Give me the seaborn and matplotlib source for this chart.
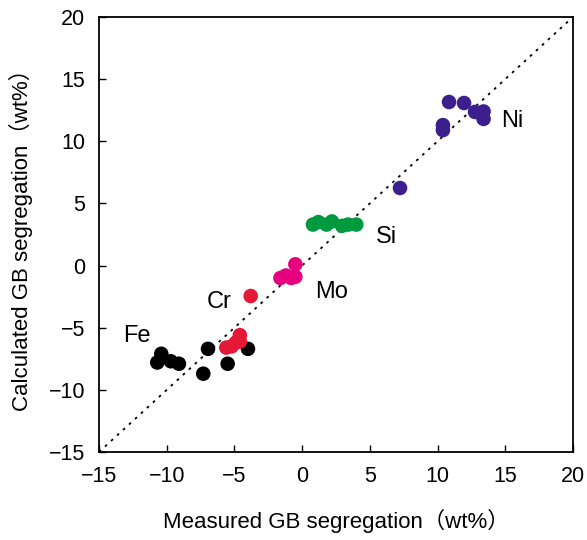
import pandas as pd
import matplotlib
matplotlib.use("Agg")
import matplotlib.pyplot as plt
import seaborn as sns

# Measured vs calculated GB segregation (wt%)
fe_x = [-10.4, -10.7, -9.7, -9.1, -7.3, -6.95, -5.5, -4.0]
fe_y = [-7.1, -7.8, -7.7, -7.9, -8.7, -6.7, -7.9, -6.7]
cr_x = [-3.8, -5.6, -5.2, -4.9, -4.6, -4.6]
cr_y = [-2.45, -6.6, -6.5, -6.2, -5.6, -6.1]
mo_x = [-1.6, -1.2, -0.8, -0.5, -0.5]
mo_y = [-1.0, -0.8, -1.0, -0.9, 0.1]
si_x = [0.8, 1.2, 1.8, 2.2, 2.95, 3.4, 4.0]
si_y = [3.3, 3.5, 3.3, 3.55, 3.2, 3.3, 3.3]
ni_x = [10.85, 11.96, 12.77, 13.4, 13.4, 10.4, 10.4, 7.23]
ni_y = [13.16, 13.08, 12.36, 12.4, 11.8, 11.3, 10.9, 6.24]

elements = ["Fe", "Cr", "Mo", "Si", "Ni"]
colors = ["#000000", "#e31937", "#e6007e", "#009a3e", "#3c1f8c"]
label_x = [-12.2, -6.1, 2.2, 6.2, 15.5]
label_y = [-5.7, -2.9, -2.1, 2.3, 11.6]

rows = []
for el, xs, ys in zip(elements, [fe_x, cr_x, mo_x, si_x, ni_x], [fe_y, cr_y, mo_y, si_y, ni_y]):
    for a, b in zip(xs, ys):
        rows.append({"element": el, "measured": a, "calculated": b})
df = pd.DataFrame(rows)

sns.set_style("ticks")
plt.rcParams["font.family"] = ["Liberation Sans", "Noto Sans CJK JP", "DejaVu Sans"]
plt.rcParams["text.color"] = "black"
plt.rcParams["axes.labelcolor"] = "black"
plt.rcParams["xtick.color"] = "black"
plt.rcParams["ytick.color"] = "black"
plt.rcParams["axes.edgecolor"] = "black"

fig = plt.figure(figsize=(5.87, 5.40), dpi=100)
ax = fig.add_axes([0.1687, 0.163, 0.8073, 0.8055])

ax.plot([-15, 20], [-15, 20], color="black", lw=1.3, ls=(0, (1.5, 3)), zorder=1)

sns.scatterplot(data=df, x="measured", y="calculated", hue="element",
                hue_order=elements, palette=colors, s=110, edgecolor="none",
                legend=False, ax=ax, zorder=2)

for el, lx, ly in zip(elements, label_x, label_y):
    ax.text(lx, ly, el, fontsize=17, ha="center", va="center")

ax.set_xlim(-15, 20)
ax.set_ylim(-15, 20)
ticks = list(range(-15, 21, 5))
tick_labels = ["\u221215", "\u221210", "\u22125", "0", "5", "10", "15", "20"]
ax.set_xticks(ticks)
ax.set_yticks(ticks)
ax.set_xticklabels(tick_labels)
ax.set_yticklabels(tick_labels)
ax.tick_params(direction="in", length=5, width=1, labelsize=15.5, pad=10)
for sp in ax.spines.values():
    sp.set_linewidth(1.3)
    sp.set_visible(True)

ax.set_xlabel("Measured GB segregation\uff08wt%\uff09", fontsize=16, labelpad=16)
ax.set_ylabel("Calculated GB segregation\uff08wt%\uff09", fontsize=16, labelpad=11)

fig.savefig("out.png", dpi=100)
